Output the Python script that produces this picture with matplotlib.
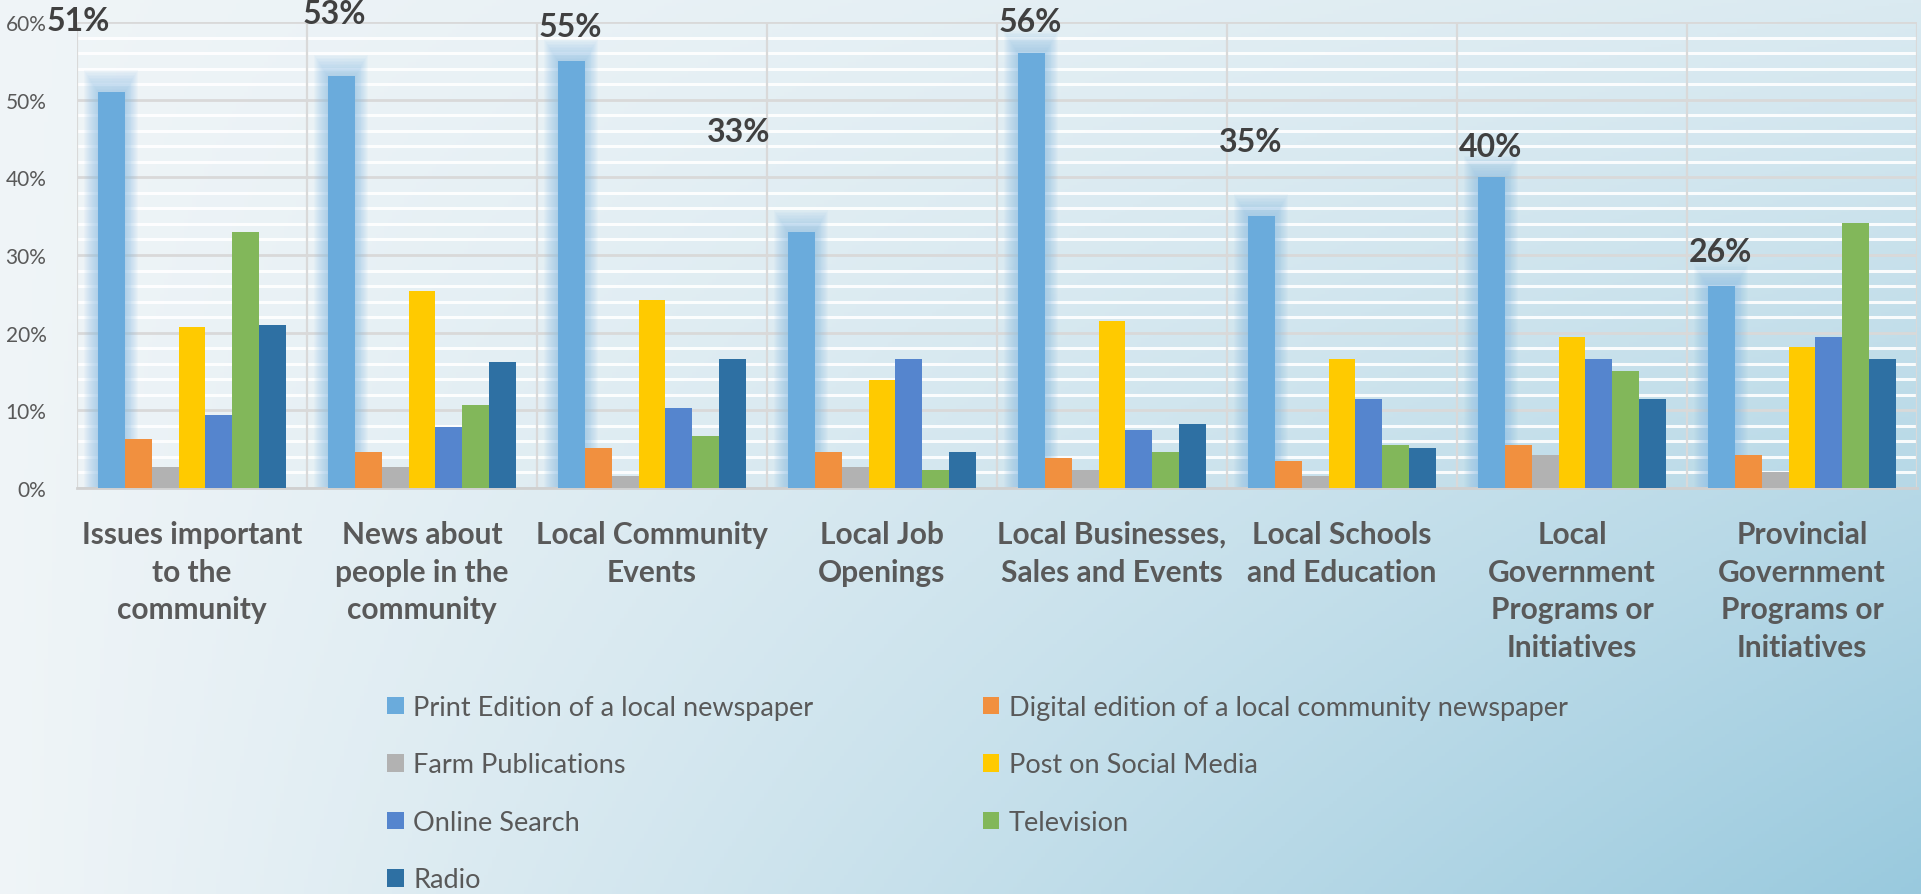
import numpy as np
import matplotlib.pyplot as plt
from matplotlib.patches import Patch
from matplotlib.ticker import MultipleLocator, FuncFormatter

plt.rcParams['font.family'] = ['Lato', 'DejaVu Sans']

categories = [
    "Issues important\nto the\ncommunity",
    "News about\npeople in the\ncommunity",
    "Local Community\nEvents",
    "Local Job\nOpenings",
    "Local Businesses,\nSales and Events",
    "Local Schools\nand Education",
    "Local\nGovernment\nPrograms or\nInitiatives",
    "Provincial\nGovernment\nPrograms or\nInitiatives",
]

series_names = [
    "Print Edition of a local newspaper",
    "Digital edition of a local community newspaper",
    "Farm Publications",
    "Post on Social Media",
    "Online Search",
    "Television",
    "Radio",
]

print_edition = [51, 53, 55, 33, 56, 35, 40, 26]
digital_edition = [6.3, 4.6, 5.1, 4.6, 3.9, 3.5, 5.6, 4.3]
farm_publications = [2.7, 2.7, 1.5, 2.7, 2.3, 1.5, 4.3, 2.0]
social_media = [20.7, 25.4, 24.2, 13.9, 21.5, 16.6, 19.5, 18.2]
online_search = [9.4, 7.9, 10.3, 16.6, 7.5, 11.5, 16.6, 19.5]
television = [33.0, 10.7, 6.7, 2.3, 4.6, 5.6, 15.1, 34.1]
radio = [21.0, 16.2, 16.6, 4.6, 8.2, 5.1, 11.5, 16.6]

series = [print_edition, digital_edition, farm_publications, social_media,
          online_search, television, radio]
colors = ['#6AABDC', '#F1903F', '#B2B2B2', '#FFCA00', '#5585CE', '#82B75A', '#2E70A3']

# where each callout sits relative to the top-left corner of its print bar (pixels)
callout_offsets = [(-51, 71), (-25, 63), (-19, 34), (-81, 100),
                   (-19, 32), (-29, 75), (-19, 31), (-19, 35)]

fig = plt.figure(figsize=(19.21, 8.95), dpi=100)

# soft light-to-blue backdrop
bg = fig.add_axes([0, 0, 1, 1], zorder=-10)
xn = np.linspace(0, 1, 480)[None, :]
yn = np.linspace(0, 1, 240)[:, None]
t = xn * (0.25 + 0.75 * yn)
c0 = np.array([0.94, 0.96, 0.97])
c1 = np.array([0.60, 0.79, 0.87])
img = c0[None, None, :] * (1 - t[..., None]) + c1[None, None, :] * t[..., None]
bg.imshow(img, aspect='auto', extent=[0, 1, 0, 1], origin='upper')
bg.axis('off')

ax = fig.add_axes([77 / 1921, 1 - 489 / 895, 1840 / 1921, 466 / 895])
ax.set_facecolor('none')

n = len(series)
x = np.arange(len(categories))
w = 0.82 / n

# glow behind the print edition bars
for k in range(14, 0, -1):
    ax.bar(x - 3 * w, np.array(print_edition) + k * 0.2, width=w + k * 0.0085,
           color='#8DBFE6', alpha=0.06, linewidth=0, zorder=2)

for j, (vals, c) in enumerate(zip(series, colors)):
    ax.bar(x + (j - 3) * w, vals, width=w, color=c, linewidth=0, zorder=3)

for i, v in enumerate(print_edition):
    dx, dy = callout_offsets[i]
    ax.annotate(f"{v:.0f}%", xy=(x[i] - 3.5 * w, v), xytext=(dx, dy),
                textcoords='offset pixels', ha='left', va='center',
                fontsize=23, fontweight='bold', color='#404040',
                annotation_clip=False, zorder=5)

ax.set_xlim(-0.5, len(categories) - 0.5)
ax.set_ylim(0, 60)
ax.yaxis.set_major_locator(MultipleLocator(10))
ax.yaxis.set_minor_locator(MultipleLocator(2))
ax.yaxis.set_major_formatter(FuncFormatter(lambda v, p: f"{v:.0f}%"))
ax.grid(axis='y', which='minor', color='white', linewidth=2.2, alpha=0.9, zorder=0)
ax.grid(axis='y', which='major', color='#D9D9D9', linewidth=2, zorder=1)
for b in np.arange(-0.5, len(categories), 1.0):
    ax.axvline(b, color='#D9D9D9', linewidth=1.6, zorder=1)
ax.set_axisbelow(True)

for s in ['top', 'right', 'left']:
    ax.spines[s].set_visible(False)
ax.spines['bottom'].set_color('#D0D0D0')
ax.spines['bottom'].set_linewidth(2)

ax.set_xticks(x)
ax.set_xticklabels(categories, fontsize=21.5, fontweight='bold', color='#595959',
                   linespacing=1.42)
ax.tick_params(axis='x', length=0, pad=23)
ax.tick_params(axis='y', which='both', length=0, pad=22, labelsize=15,
               labelcolor='#595959')

handles = [Patch(facecolor=c, edgecolor='none') for c in colors]
order = [0, 2, 4, 6, 1, 3, 5]
fig.legend([handles[i] for i in order], [series_names[i] for i in order],
           ncol=2, loc='upper left', bbox_to_anchor=(387 / 1921, 1 - 696 / 895),
           frameon=False, fontsize=19.5, labelcolor='#595959',
           handlelength=0.62, handleheight=0.62, handletextpad=0.35,
           columnspacing=6.25, labelspacing=1.2, borderaxespad=0, borderpad=0)

fig.savefig('out.png', dpi=100)
